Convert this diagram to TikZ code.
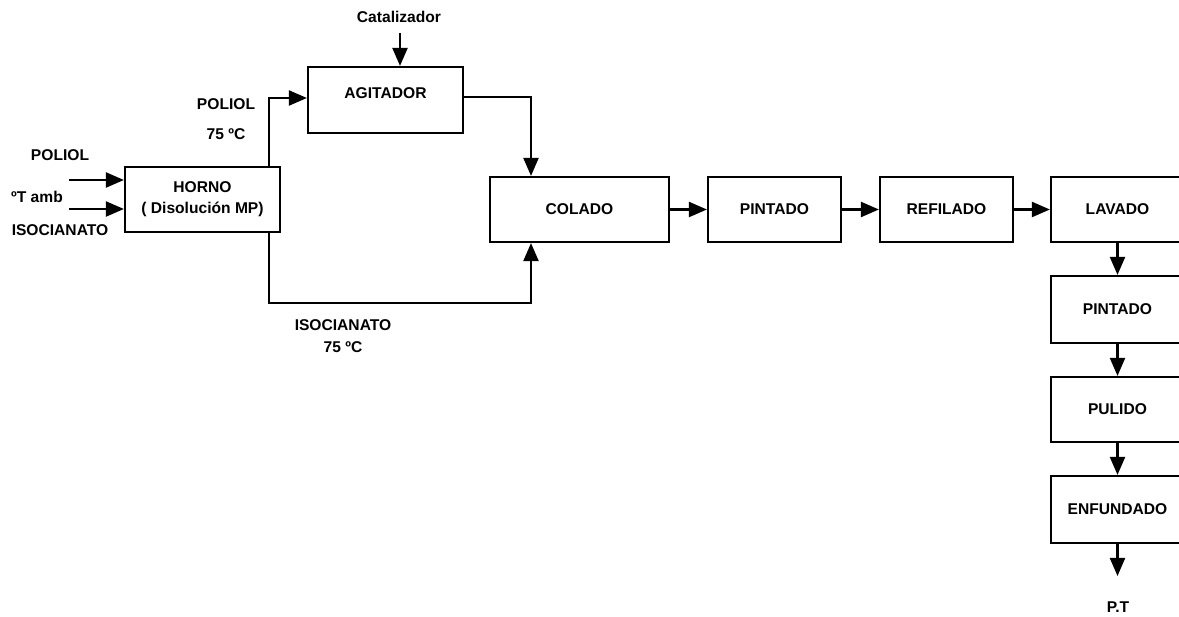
\documentclass[tikz,border=0pt]{standalone}
\usepackage{fontspec}
\setmainfont{Liberation Sans}
\usetikzlibrary{arrows.meta,calc}

\begin{document}
\begin{tikzpicture}[x=1pt,y=-1pt,font=\fontsize{15.6}{21}\selectfont\bfseries,
    proc/.style={draw,line width=2.2pt,minimum height=65pt,inner sep=0pt,align=center},
    txt/.style={inner sep=0pt,align=center},
    flow/.style={line width=2.2pt,-{Triangle[length=18pt,width=15pt]}}]
      \useasboundingbox (0,0) rectangle (1179,617);

      \node[proc,minimum width=155pt] (horno) at (202.5,199.5) {HORNO\\( Disolución MP)};
      \node[proc,minimum width=155pt,minimum height=66pt,text depth=14pt] (agitador) at (385.5,100) {AGITADOR};
      \node[proc,minimum width=179pt] (colado) at (579.5,209.5) {COLADO};
      \node[proc,minimum width=133pt] (pintado) at (774.5,209.5) {PINTADO};
      \node[proc,minimum width=133pt] (refilado) at (946.5,209.5) {REFILADO};
      \node[proc,minimum width=133pt] (lavado) at (1117.5,209.5) {LAVADO};
      \node[proc,minimum width=133pt,minimum height=67pt] (pintado2) at (1117.5,309.5) {PINTADO};
      \node[proc,minimum width=133pt] (pulido) at (1117.5,409.5) {PULIDO};
      \node[proc,minimum width=133pt,minimum height=67pt] (enfundado) at (1117.5,509.5) {ENFUNDADO};

      \node[txt] (poliol in) at (60,155) {POLIOL};
      \node[txt] (tamb) at (37,197) {ºT amb};
      \node[txt] (isoc in) at (60,230) {ISOCIANATO};
      \node[txt] (catal) at (399,17) {Catalizador};
      \node[txt] (poliol hot) at (226,104) {POLIOL};
      \node[txt] (poliol temp) at (226,134) {75 ºC};
      \node[txt] (isoc hot) at (343,325) {ISOCIANATO};
      \node[txt] (isoc temp) at (343,347) {75 ºC};
      \node[txt] (pt) at (1118,607) {P.T};

      \coordinate (in1) at (69,180);
      \coordinate (in2) at (69,209);
      \coordinate (catin) at (400,33);
      \coordinate (ptin) at (1117.5,576);

      \draw[flow] (in1) -- (in1 -| horno.west);
      \draw[flow] (in2) -- (in2 -| horno.west);
      \draw[flow] (catin) -- (catin |- agitador.north);

      \draw[flow] ([xshift=-12pt]horno.north east) |- ([yshift=2pt]agitador.west);
      \draw[flow] ([yshift=3pt]agitador.east) -| ([xshift=-48.5pt]colado.north);
      \draw[flow] ([xshift=-12pt]horno.south east) -- ++(0,70) -| ([xshift=-48.5pt]colado.south);

      \draw[flow] (colado) -- (pintado);
      \draw[flow] (pintado) -- (refilado);
      \draw[flow] (refilado) -- (lavado);
      \draw[flow] (lavado) -- (pintado2);
      \draw[flow] (pintado2) -- (pulido);
      \draw[flow] (pulido) -- (enfundado);
      \draw[flow] (enfundado) -- (ptin);
    \end{tikzpicture}
\end{document}
